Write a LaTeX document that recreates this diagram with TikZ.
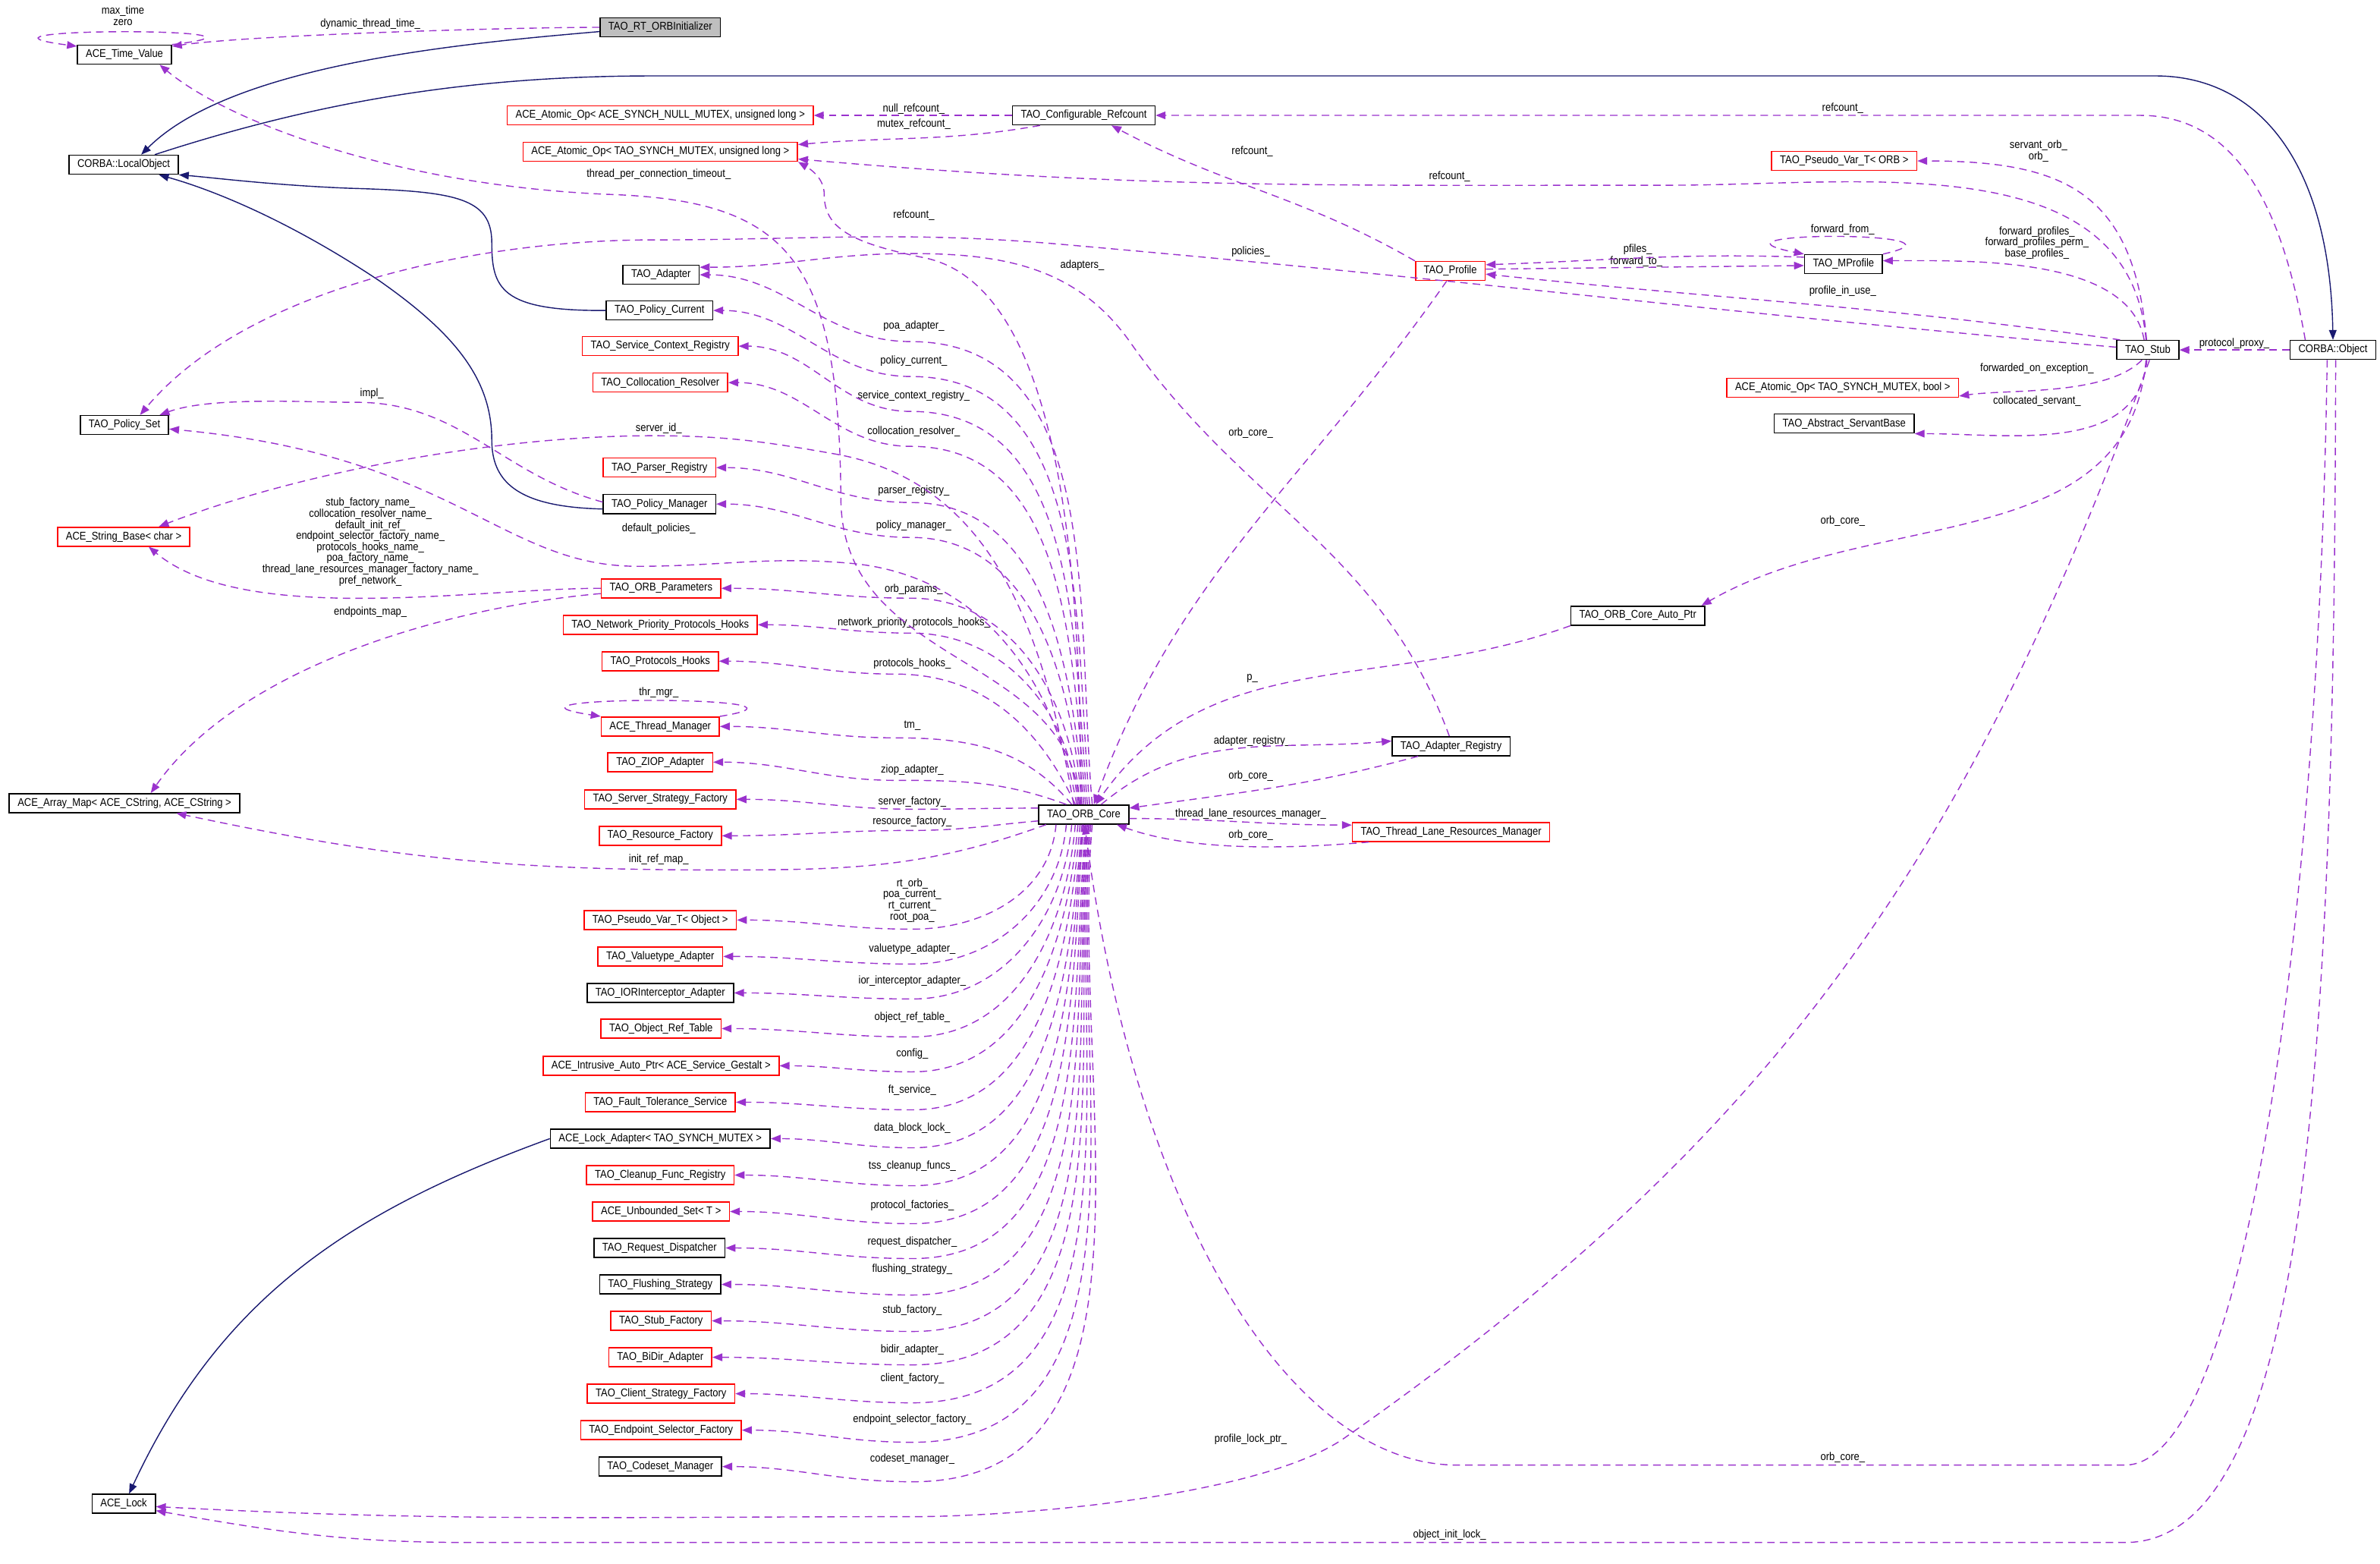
\documentclass[tikz,border=0pt]{standalone}
\usepackage{fontspec}
\setmainfont{Liberation Sans}[FakeStretch=0.88]
\usetikzlibrary{arrows.meta}

\definecolor{membercol}{RGB}{154,50,205}
\definecolor{inheritcol}{RGB}{25,25,112}
\definecolor{rootgray}{RGB}{191,191,191}

\tikzset{
  every node/.style={font=\fontsize{4.2pt}{4.15pt}\selectfont},
  cls/.style={draw=black, line width=0.45pt, minimum height=0.25cm,
    inner xsep=0.11cm, inner ysep=0pt},
  clsred/.style={cls, draw=red},
  clsroot/.style={cls, fill=rootgray},
  lbl/.style={inner sep=0pt, align=center},
  member/.style={draw=membercol, line width=0.4pt,
    dash pattern=on 2.8pt off 1.9pt, -{Triangle[length=0.13cm,width=0.1cm]}},
  inherit/.style={draw=inheritcol, line width=0.4pt,
    -{Triangle[length=0.13cm,width=0.1cm]}},
}

% members of the ORB core, up or down the bundle
\newcommand{\coreup}[3]{\draw[member] (core.#1) to[out=95,in=0] (#2) to[out=180,in=0] (#3.east);}
\newcommand{\coredown}[3]{\draw[member] (core.#1) to[out=-95,in=0] (#2) to[out=180,in=0] (#3.east);}

\begin{document}
\begin{tikzpicture}[x=0.02cm, y=0.02cm]
\useasboundingbox (0,0) rectangle (1568,-1030);

% Left column
\node[cls] (timeval) at (82,-36) {ACE\_Time\_Value};
\node[cls] (localobj) at (81.5,-108.5) {CORBA::LocalObject};
\node[cls] (polset) at (82,-280) {TAO\_Policy\_Set};
\node[clsred] (strbase) at (81.5,-353.5) {ACE\_String\_Base< char >};
\node[cls] (arraymap) at (82,-529) {ACE\_Array\_Map< ACE\_CString, ACE\_CString >};
\node[cls] (acelock) at (81.5,-990.5) {ACE\_Lock};

% Middle column
\node[clsroot] (rtinit) at (435,-18) {TAO\_RT\_ORBInitializer};
\node[clsred] (atomnull) at (435,-76) {ACE\_Atomic\_Op< ACE\_SYNCH\_NULL\_MUTEX, unsigned long >};
\node[clsred] (atomul) at (435,-100) {ACE\_Atomic\_Op< TAO\_SYNCH\_MUTEX, unsigned long >};
\node[cls] (adapter) at (435.5,-181) {TAO\_Adapter};
\node[cls] (polcur) at (434.5,-204.5) {TAO\_Policy\_Current};
\node[clsred] (screg) at (435,-228) {TAO\_Service\_Context\_Registry};
\node[clsred] (colres) at (435,-252) {TAO\_Collocation\_Resolver};
\node[clsred] (parser) at (434.5,-308) {TAO\_Parser\_Registry};
\node[cls] (polmgr) at (434.5,-332) {TAO\_Policy\_Manager};
\node[clsred] (orbparams) at (435.5,-387.5) {TAO\_ORB\_Parameters};
\node[clsred] (nphooks) at (435,-411.5) {TAO\_Network\_Priority\_Protocols\_Hooks};
\node[clsred] (prothooks) at (435,-435.5) {TAO\_Protocols\_Hooks};
\node[clsred] (thrmgr) at (435,-478.5) {ACE\_Thread\_Manager};
\node[clsred] (ziop) at (435,-502) {TAO\_ZIOP\_Adapter};
\node[clsred] (ssfact) at (435,-526.5) {TAO\_Server\_Strategy\_Factory};
\node[clsred] (resfact) at (435,-550.5) {TAO\_Resource\_Factory};
\node[clsred] (pvobj) at (435,-606) {TAO\_Pseudo\_Var\_T< Object >};
\node[clsred] (valadapt) at (435,-630) {TAO\_Valuetype\_Adapter};
\node[cls] (iorint) at (435,-654) {TAO\_IORInterceptor\_Adapter};
\node[clsred] (objref) at (435.5,-677.5) {TAO\_Object\_Ref\_Table};
\node[clsred] (intrusive) at (435.5,-702) {ACE\_Intrusive\_Auto\_Ptr< ACE\_Service\_Gestalt >};
\node[clsred] (ftserv) at (435,-726) {TAO\_Fault\_Tolerance\_Service};
\node[cls] (lockadapt) at (435,-750) {ACE\_Lock\_Adapter< TAO\_SYNCH\_MUTEX >};
\node[clsred] (cleanup) at (435,-774) {TAO\_Cleanup\_Func\_Registry};
\node[clsred] (unbset) at (435.5,-798) {ACE\_Unbounded\_Set< T >};
\node[cls] (reqdisp) at (434.5,-822) {TAO\_Request\_Dispatcher};
\node[cls] (flush) at (435,-846) {TAO\_Flushing\_Strategy};
\node[clsred] (stubfact) at (435.5,-870) {TAO\_Stub\_Factory};
\node[clsred] (bidir) at (435,-894) {TAO\_BiDir\_Adapter};
\node[clsred] (csfact) at (435.5,-918) {TAO\_Client\_Strategy\_Factory};
\node[clsred] (esfact) at (435.5,-942) {TAO\_Endpoint\_Selector\_Factory};
\node[cls] (codeset) at (435,-966) {TAO\_Codeset\_Manager};

% Right part
\node[cls] (core) at (714,-536.5) {TAO\_ORB\_Core};
\node[cls] (refcnt) at (714,-76) {TAO\_Configurable\_Refcount};
\node[clsred] (profile) at (955.5,-178.5) {TAO\_Profile};
\node[cls] (adreg) at (956,-491.5) {TAO\_Adapter\_Registry};
\node[clsred] (tlrm) at (956,-548) {TAO\_Thread\_Lane\_Resources\_Manager};
\node[cls] (autoptr) at (1079,-405.5) {TAO\_ORB\_Core\_Auto\_Ptr};
\node[clsred] (pvorb) at (1215,-106) {TAO\_Pseudo\_Var\_T< ORB >};
\node[cls] (mprofile) at (1214.5,-174) {TAO\_MProfile};
\node[clsred] (atombool) at (1214,-255.5) {ACE\_Atomic\_Op< TAO\_SYNCH\_MUTEX, bool >};
\node[cls] (servbase) at (1215,-279) {TAO\_Abstract\_ServantBase};
\node[cls] (stub) at (1415,-230.5) {TAO\_Stub};
\node[cls] (corbaobj) at (1537,-230.5) {CORBA::Object};

% Labels
\node[lbl] (lmax) at (81,-10.5) {max\_time\\zero};
\node[lbl] (ldyn) at (244,-16) {dynamic\_thread\_time\_};
\node[lbl] (lnull) at (602,-72) {null\_refcount\_};
\node[lbl] (lmutex) at (602,-82) {mutex\_refcount\_};
\node[lbl] (lrefp) at (825,-100) {refcount\_};
\node[lbl] (lrefs) at (955,-116.5) {refcount\_};
\node[lbl] (lrefo) at (1214,-71.5) {refcount\_};
\node[lbl] (ltpc) at (434,-115) {thread\_per\_connection\_timeout\_};
\node[lbl] (lsorb) at (1343,-99.5) {servant\_orb\_\\orb\_};
\node[lbl] (lrefc) at (602,-142) {refcount\_};
\node[lbl] (lfrom) at (1214,-151.5) {forward\_from\_};
\node[lbl] (lfwd) at (1342,-160) {forward\_profiles\_\\forward\_profiles\_perm\_\\base\_profiles\_};
\node[lbl] (lpfiles) at (1079,-164.5) {pfiles\_};
\node[lbl] (lpol) at (824,-166) {policies\_};
\node[lbl] (lto) at (1078,-172.5) {forward\_to\_};
\node[lbl] (ladapters) at (713,-175) {adapters\_};
\node[lbl] (linuse) at (1214,-192) {profile\_in\_use\_};
\node[lbl] (lpoa) at (602,-215) {poa\_adapter\_};
\node[lbl] (lproxy) at (1472,-226.5) {protocol\_proxy\_};
\node[lbl] (lpcur) at (602,-238) {policy\_current\_};
\node[lbl] (lfoe) at (1342,-243) {forwarded\_on\_exception\_};
\node[lbl] (limpl) at (245,-259.5) {impl\_};
\node[lbl] (lscr) at (602,-261) {service\_context\_registry\_};
\node[lbl] (lcolloc) at (1342,-264) {collocated\_servant\_};
\node[lbl] (lsid) at (434,-282) {server\_id\_};
\node[lbl] (lcres) at (602,-284) {collocation\_resolver\_};
\node[lbl] (lcorep) at (824,-285) {orb\_core\_};
\node[lbl] (lpreg) at (602,-323) {parser\_registry\_};
\node[lbl] (lcores) at (1214,-343) {orb\_core\_};
\node[lbl] (lpmgr) at (602,-346) {policy\_manager\_};
\node[lbl] (ldefpol) at (434,-348) {default\_policies\_};
\node[lbl] (lnames) at (244,-357) {stub\_factory\_name\_\\collocation\_resolver\_name\_\\default\_init\_ref\_\\endpoint\_selector\_factory\_name\_\\protocols\_hooks\_name\_\\poa\_factory\_name\_\\thread\_lane\_resources\_manager\_factory\_name\_\\pref\_network\_};
\node[lbl] (lparams) at (602,-388) {orb\_params\_};
\node[lbl] (lemap) at (244,-403) {endpoints\_map\_};
\node[lbl] (lnph) at (602,-410) {network\_priority\_protocols\_hooks\_};
\node[lbl] (lph) at (601,-437) {protocols\_hooks\_};
\node[lbl] (lp) at (825,-447) {p\_};
\node[lbl] (lthr) at (434,-456) {thr\_mgr\_};
\node[lbl] (ltm) at (601,-478) {tm\_};
\node[lbl] (lareg) at (825,-488) {adapter\_registry\_};
\node[lbl] (lziop) at (601,-507) {ziop\_adapter\_};
\node[lbl] (lcorea) at (824,-511) {orb\_core\_};
\node[lbl] (lsfact) at (601,-528) {server\_factory\_};
\node[lbl] (ltlrm) at (824,-536) {thread\_lane\_resources\_manager\_};
\node[lbl] (lrfact) at (601,-541) {resource\_factory\_};
\node[lbl] (lcoret) at (824,-550) {orb\_core\_};
\node[lbl] (lirm) at (434,-566) {init\_ref\_map\_};
\node[lbl] (lrtorb) at (601,-593) {rt\_orb\_\\poa\_current\_\\rt\_current\_\\root\_poa\_};
\node[lbl] (lval) at (601,-625) {valuetype\_adapter\_};
\node[lbl] (lior) at (601,-646) {ior\_interceptor\_adapter\_};
\node[lbl] (lort) at (601,-670) {object\_ref\_table\_};
\node[lbl] (lconf) at (601,-694) {config\_};
\node[lbl] (lft) at (601,-718) {ft\_service\_};
\node[lbl] (ldbl) at (601,-743) {data\_block\_lock\_};
\node[lbl] (ltss) at (601,-768) {tss\_cleanup\_funcs\_};
\node[lbl] (lpfac) at (601,-794) {protocol\_factories\_};
\node[lbl] (lrd) at (601,-818) {request\_dispatcher\_};
\node[lbl] (lfs) at (601,-836) {flushing\_strategy\_};
\node[lbl] (lstf) at (601,-863) {stub\_factory\_};
\node[lbl] (lbidir) at (601,-889) {bidir\_adapter\_};
\node[lbl] (lcf) at (601,-908) {client\_factory\_};
\node[lbl] (lesf) at (601,-935) {endpoint\_selector\_factory\_};
\node[lbl] (lcsm) at (601,-961) {codeset\_manager\_};
\node[lbl] (lplp) at (824,-948) {profile\_lock\_ptr\_};
\node[lbl] (lcoreo) at (1214,-960) {orb\_core\_};
\node[lbl] (loil) at (955,-1011) {object\_init\_lock\_};

% Inheritance
\draw[inherit] (rtinit.-176) to[out=185,in=45,looseness=0.7] (localobj.30);
\draw[inherit] (localobj.18) .. controls (200,-70) and (300,-50) .. (430,-50) -- (1420,-50) .. controls (1490,-50) and (1535,-110) .. (corbaobj.north);
\draw[inherit] (polcur.west) .. controls (330,-205) and (324,-190) .. (324,-160) .. controls (324,-130) and (300,-126) .. (230,-124) .. controls (180,-122) and (140,-117) .. (localobj.south east);
\draw[inherit] (polmgr.-175) .. controls (345,-334) and (324,-320) .. (324,-290) .. controls (324,-250) and (300,-220) .. (250,-185) .. controls (190,-145) and (140,-125) .. (localobj.-16);
\draw[inherit] (lockadapt.west) to[out=200,in=65] (acelock.62);

% Time values
\draw[member] (rtinit.west) to[out=180,in=8,looseness=0.5] (timeval.10);
\draw[member] (timeval.north east) .. controls (210,-18) and (-45,-18) .. (timeval.170);
\draw[member] (core.115) .. controls (706,-430) and (556,-440) .. (554,-330) .. controls (553,-170) and (520,-132) .. (400,-128) .. controls (260,-122) and (150,-80) .. (timeval.-16);

% Reference counts
\draw[member] (refcnt.west) -- (atomnull.east);
\draw[member] (refcnt.-167) to[out=190,in=5] (atomul.3);
\draw[member] (corbaobj.160) to[out=100,in=0] (1410,-76) -- (refcnt.east);
\draw[member] (profile.north west) to[out=150,in=-28] (refcnt.-20);
\draw[member] (stub.100) to[out=95,in=0] (1100,-122) to[out=180,in=-5] (atomul.-3);
\draw[member] (core.105) .. controls (712,-380) and (700,-190) .. (610,-170) .. controls (560,-160) and (543,-150) .. (543,-128) .. controls (543,-118) and (535,-112) .. (atomul.south east);

% Stub
\draw[member] (corbaobj.west) -- (stub.east);
\draw[member] (stub.97) to[out=95,in=0,looseness=1.3] (pvorb.east);
\draw[member] (stub.110) to[out=100,in=0,looseness=0.8] (mprofile.5);
\draw[member] (stub.160) to[out=172,in=-6] (profile.-5);
\draw[member] (stub.175) to[out=175,in=-5] (700,-161) to[out=175,in=0] (430,-158) to[out=180,in=50,looseness=0.8] (polset.33);
\draw[member] (stub.-120) to[out=-135,in=8,looseness=0.7] (atombool.-4);
\draw[member] (stub.-95) to[out=-95,in=0] (servbase.south east);
\draw[member] (stub.-100) to[out=-95,in=30] (autoptr.9);
\draw[member] (stub.-80) to[out=-110,in=35] (886,-947) to[out=215,in=0,looseness=0.6] (600,-999) to[out=180,in=-3] (acelock.-5);

% Profiles
\draw[member] (mprofile.170) to[out=178,in=2] (profile.10);
\draw[member] (profile.3) -- (mprofile.-178);
\draw[member] (mprofile.north east) .. controls (1310,-152) and (1110,-152) .. (mprofile.north west);
\draw[member] (profile.-110) to[out=-125,in=70] (core.45);

% CORBA::Object
\draw[member] (corbaobj.-120) .. controls (1528,-600) and (1480,-965) .. (1400,-965) -- (960,-965) .. controls (850,-965) and (748,-800) .. (core.-85);
\draw[member] (corbaobj.-75) .. controls (1538,-700) and (1520,-1016) .. (1400,-1016) -- (310,-1016) to[out=180,in=-10] (acelock.-12);

% Adapters and resources
\draw[member] (adreg.100) to[out=110,in=-55] (745,-226) to[out=125,in=0] (600,-167) to[out=180,in=0] (adapter.11);
\draw[member] (core.30) to[out=40,in=185] (adreg.175);
\draw[member] (adreg.-163) to[out=-165,in=8] (core.8);
\draw[member] (core.-5) to[out=0,in=180] (tlrm.176);
\draw[member] (tlrm.-173) to[out=185,in=-20,looseness=0.8] (core.-17);
\draw[member] (autoptr.south west) to[out=-160,in=55] (core.40);

% Policies and strings
\draw[member] (polmgr.178) to[out=165,in=0] (235,-265) to[out=180,in=20,looseness=0.7] (polset.16);
\draw[member] (core.125) to[out=100,in=-5] (560,-371) to[out=175,in=0] (420,-373) .. controls (330,-373) and (300,-300) .. (polset.-5);
\draw[member] (core.135) to[out=100,in=-10] (550,-299) to[out=170,in=0] (430,-287) .. controls (330,-287) and (200,-310) .. (strbase.16);
\draw[member] (orbparams.west) to[out=180,in=-40,looseness=0.7] (strbase.-22);
\draw[member] (orbparams.-175) to[out=185,in=55,looseness=0.8] (arraymap.21);
\draw[member] (core.-165) to[out=200,in=0] (470,-573) to[out=180,in=-12] (arraymap.-11);

% ORB core members, upper fan
\coreup{50}{600,-225}{adapter}
\coreup{60}{600,-248}{polcur}
\coreup{70}{600,-271}{screg}
\coreup{80}{600,-294}{colres}
\coreup{90}{600,-331}{parser}
\coreup{100}{600,-354}{polmgr}
\coreup{110}{600,-394}{orbparams}
\coreup{120}{600,-417}{nphooks}
\draw[member] (core.130) to[out=115,in=0] (590,-444) to[out=180,in=0] (prothooks.east);
\draw[member] (core.140) to[out=130,in=0] (590,-486) to[out=180,in=0] (thrmgr.east);
\draw[member] (thrmgr.north east) .. controls (560,-458) and (305,-458) .. (thrmgr.north west);
\draw[member] (core.150) to[out=160,in=0] (590,-514) to[out=180,in=0] (ziop.east);
\draw[member] (core.172) to[out=180,in=0] (601,-533) to[out=180,in=0] (ssfact.east);
\draw[member] (core.-172) to[out=185,in=0] (601,-547) to[out=180,in=0] (resfact.east);

% ORB core members, lower fan
\coredown{-160}{601,-612}{pvobj}
\coredown{-150}{601,-635}{valadapt}
\coredown{-140}{601,-658}{iorint}
\coredown{-130}{601,-683}{objref}
\coredown{-120}{601,-706}{intrusive}
\coredown{-110}{601,-731}{ftserv}
\coredown{-100}{601,-756}{lockadapt}
\coredown{-95}{601,-781}{cleanup}
\coredown{-90}{601,-806}{unbset}
\coredown{-80}{601,-829}{reqdisp}
\coredown{-75}{601,-853}{flush}
\coredown{-70}{601,-877}{stubfact}
\coredown{-65}{601,-899}{bidir}
\coredown{-60}{601,-924}{csfact}
\coredown{-55}{601,-950}{esfact}
\coredown{-50}{601,-976}{codeset}

\end{tikzpicture}
\end{document}
